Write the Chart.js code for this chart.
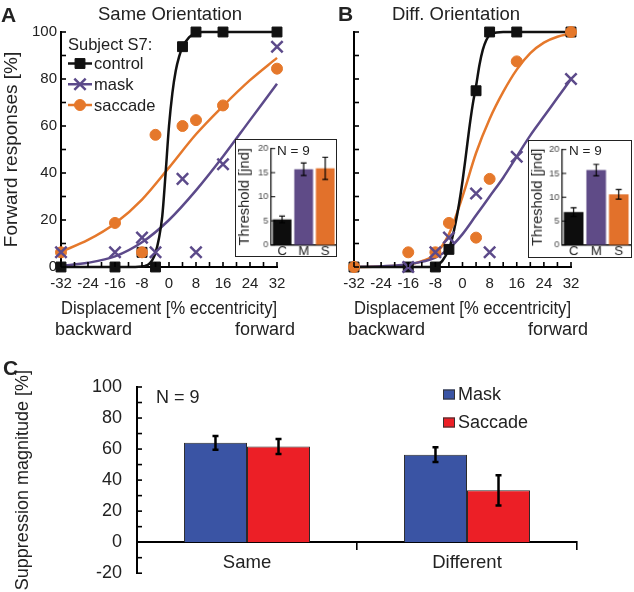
<!DOCTYPE html>
<html>
<head>
<meta charset="utf-8">
<title>Displacement suppression</title>
<script src="https://cdn.jsdelivr.net/npm/chart.js@4.4.0/dist/chart.umd.min.js"></script>
<style>
  body { margin: 0; background: #fff; }
  #fig { position: relative; width: 634px; height: 592px; overflow: hidden; font-family: "Liberation Sans", Arial, sans-serif; color: #222; }
  #fig canvas { position: absolute; }
  .inset { background: #fff; border: 1px solid #222; }
  .lbl { position: absolute; white-space: nowrap; line-height: 1; }
  .panel { font-weight: bold; font-size: 21px; }
</style>
</head>
<body>
<div id="fig">
  <canvas id="chartA" width="320" height="340" style="left:0;top:0"></canvas>
  <canvas id="chartB" width="334" height="340" style="left:300px;top:0"></canvas>
  <canvas id="insetA" class="inset" width="102" height="118" style="left:235px;top:139px"></canvas>
  <canvas id="insetB" class="inset" width="104" height="118" style="left:528px;top:140px"></canvas>
  <canvas id="chartC" width="634" height="239" style="left:0;top:360px"></canvas>

  <div class="lbl panel" style="left:1px;top:4px">A</div>
  <div class="lbl panel" style="left:338px;top:3px">B</div>
  <div class="lbl panel" style="left:3px;top:357px">C</div>
  <div class="lbl" style="left:70px;width:200px;text-align:center;top:5px;font-size:18.5px">Same Orientation</div>
  <div class="lbl" style="left:356px;width:200px;text-align:center;top:5px;font-size:18.5px">Diff. Orientation</div>
  <div class="lbl" style="left:55px;top:320px;font-size:18px">backward</div>
  <div class="lbl" style="left:195px;width:100px;text-align:right;top:320px;font-size:18px">forward</div>
  <div class="lbl" style="left:348px;top:320px;font-size:18px">backward</div>
  <div class="lbl" style="left:488px;width:100px;text-align:right;top:320px;font-size:18px">forward</div>
  <div class="lbl" style="left:277px;top:144px;font-size:13.5px">N = 9</div>
  <div class="lbl" style="left:569px;top:144px;font-size:13.5px">N = 9</div>
  <div class="lbl" style="left:156px;top:388px;font-size:18px">N = 9</div>
</div>
<script>
// displacement levels (% eccentricity), negative = backward
const displacements = [-32, -16, -8, -4, 4, 8, 16, 32];
const xTickValues = [-32, -24, -16, -8, 0, 8, 16, 24, 32];
const xMinorTicks = [-32, -28, -24, -20, -16, -12, -8, -4, 0, 4, 8, 12, 16, 20, 24, 28, 32];
const yTickValues = [0, 20, 40, 60, 80, 100];
const yMinorTicks = [0, 10, 20, 30, 40, 50, 60, 70, 80, 90, 100];

// A: same orientation, subject S7, forward responses [%]
const sameControl = [0, 0, 6.25, 0, 93.75, 100, 100, 100];
const sameMask = [6.25, 6.25, 12.5, 6.25, 37.5, 6.25, 43.75, 93.75];
const sameSaccade = [6.25, 18.75, 6.25, 56.25, 60, 62.5, 68.75, 84.4];

// B: different orientation
const diffControl = [0, 0, 0, 7.5, 75, 100, 100, 100];
const diffMask = [null, 0, 6.25, 12.5, 31.25, 6.25, 46.9, 80];
const diffSaccade = [0, 6.25, 6.25, 18.75, 12.5, 37.5, 87.5, 100];

// fitted curves
const sameControlFitX = [-32, -10, -8, -7, -6, -5, -4, -3, -2, -1, 0, 1, 2, 3, 4, 6, 8, 10, 32];
const sameControlFitY = [0, 0, 0.2, 0.5, 1.2, 2.8, 6, 12, 21.5, 40, 60, 74, 83.5, 89.5, 93.5, 97.8, 99.4, 100, 100];
const sameMaskFitX = [-32, -24, -16, -8, 0, 8, 16, 24, 32];
const sameMaskFitY = [0.5, 1.8, 4.5, 10.5, 20, 32.6, 47, 62.5, 78];
const sameSaccadeFitX = [-32, -24, -16, -8, 0, 8, 16, 24, 32];
const sameSaccadeFitY = [6.5, 11.5, 18.5, 28.7, 42.3, 56.5, 68.5, 79.5, 89];

const diffControlFitX = [-32, -10, -8, -6, -4, -3, -2, -1, 0, 1, 2, 3, 4, 5, 6, 7, 8, 10, 12, 32];
const diffControlFitY = [0, 0, 0.4, 2.5, 7.7, 12.5, 19, 27, 36.5, 47.5, 59, 69, 77, 86, 92.5, 96.5, 98.8, 99.8, 100, 100];
const diffMaskFitX = [-32, -24, -16, -8, -4, 0, 4, 8, 12, 16, 20, 24, 28, 32];
const diffMaskFitY = [0, 0.3, 1.2, 4, 7.8, 14, 22, 30, 38, 47, 56, 64, 72, 80];
const diffSaccadeFitX = [-32, -24, -16, -12, -8, -4, 0, 4, 8, 12, 16, 20, 24, 28, 32];
const diffSaccadeFitY = [0, 0.2, 1, 2.5, 5.5, 14, 30, 48.5, 63, 74.5, 84, 91, 95.5, 98, 99.3];

// insets: thresholds [jnd], N = 9
const thresholdLabels = ["C", "M", "S"];
const thresholdTicks = [0, 5, 10, 15, 20];
const sameThreshold = [5.3, 15.7, 15.9];
const sameThresholdErr = [0.7, 1.3, 2.3];
const diffThreshold = [6.9, 15.7, 10.6];
const diffThresholdErr = [0.9, 1.2, 1.0];

// C: suppression magnitude [%]
const conditions = ["Same", "Different"];
const suppTicks = [-20, 0, 20, 40, 60, 80, 100];
const suppMinorTicks = [-20, -10, 0, 10, 20, 30, 40, 50, 60, 70, 80, 90, 100];
const maskSuppression = [64, 56.4];
const maskSuppressionErr = [4.4, 4.7];
const saccadeSuppression = [61.7, 33.4];
const saccadeSuppressionErr = [4.8, 9.8];

const FONT = "'Liberation Sans', Arial, sans-serif";
const BLACK = "#111", PURPLE = "#5c4a8a", ORANGE = "#e5782b";
Chart.defaults.font.family = FONT;
Chart.defaults.color = "#222";

// tick marks pointing into the plot
const innerTicks = {
    id: "innerTicks",
    afterDraw(chart, args, o) {
        if (!o.marks) return;
        const ctx = chart.ctx, area = chart.chartArea;
        ctx.save();
        ctx.strokeStyle = "#000";
        ctx.lineWidth = o.width || 1.5;
        o.marks.forEach(m => {
            const s = chart.scales[m.axis];
            m.values.forEach(v => {
                const p = s.getPixelForValue(v);
                ctx.beginPath();
                if (s.isHorizontal()) {
                    ctx.moveTo(p, area.bottom);
                    ctx.lineTo(p, area.bottom - m.len);
                } else {
                    ctx.moveTo(area.left, p);
                    ctx.lineTo(area.left + m.len, p);
                }
                ctx.stroke();
            });
        });
        ctx.restore();
    }
};

const errorBars = {
    id: "errorBars",
    afterDatasetsDraw(chart, args, o) {
        const ctx = chart.ctx, ys = chart.scales.y;
        chart.data.datasets.forEach((ds, di) => {
            if (!ds.errors) return;
            const meta = chart.getDatasetMeta(di);
            ctx.save();
            ctx.strokeStyle = "#000";
            ctx.lineWidth = o.width;
            meta.data.forEach((bar, i) => {
                const top = ys.getPixelForValue(ds.data[i] + ds.errors[i]);
                const bot = ys.getPixelForValue(ds.data[i] - ds.errors[i]);
                ctx.beginPath();
                ctx.moveTo(bar.x, top); ctx.lineTo(bar.x, bot);
                ctx.moveTo(bar.x - o.cap, top); ctx.lineTo(bar.x + o.cap, top);
                ctx.moveTo(bar.x - o.cap, bot); ctx.lineTo(bar.x + o.cap, bot);
                ctx.stroke();
            });
            ctx.restore();
        });
    }
};

// "Subject S7:" legend with line + marker
const subjectLegend = {
    id: "subjectLegend",
    afterDraw(chart, args, o) {
        if (!o.display) return;
        const ctx = chart.ctx;
        ctx.save();
        ctx.font = o.fontSize + "px " + FONT;
        ctx.textBaseline = "middle";
        ctx.fillStyle = "#222";
        ctx.fillText(o.heading, o.x, o.headingY);
        let y = o.itemY;
        chart.data.datasets.forEach(ds => {
            if (!ds.label) return;
            ctx.strokeStyle = ds.borderColor;
            ctx.fillStyle = ds.backgroundColor;
            ctx.lineWidth = 2.5;
            ctx.beginPath();
            ctx.moveTo(o.x, y);
            ctx.lineTo(o.x + o.lineLen, y);
            ctx.stroke();
            ctx.lineWidth = ds.pointBorderWidth;
            Chart.helpers.drawPoint(ctx, {pointStyle: ds.pointStyle, radius: ds.pointRadius, borderWidth: ds.pointBorderWidth, rotation: 0}, o.x + o.lineLen / 2, y);
            ctx.fillStyle = "#222";
            ctx.fillText(ds.label, o.x + o.lineLen + 2, y + 1);
            y += o.gap;
        });
        ctx.restore();
    }
};

const boxLegend = {
    id: "boxLegend",
    afterDraw(chart, args, o) {
        const ctx = chart.ctx;
        ctx.save();
        ctx.font = o.fontSize + "px " + FONT;
        ctx.textBaseline = "middle";
        chart.data.datasets.forEach((ds, i) => {
            const y = o.y + i * o.gap;
            ctx.fillStyle = ds.backgroundColor;
            ctx.fillRect(o.x, y - o.h / 2, o.w, o.h);
            ctx.strokeStyle = "#333";
            ctx.lineWidth = 1;
            ctx.strokeRect(o.x + 0.5, y - o.h / 2 + 0.5, o.w - 1, o.h - 1);
            ctx.fillStyle = "#222";
            ctx.fillText(ds.label, o.x + o.w + 3, y + 1);
        });
        ctx.restore();
    }
};

function fitSet(xs, ys, color) {
    return {
        type: "line",
        data: xs.map((x, i) => ({x: x, y: ys[i]})),
        borderColor: color,
        borderWidth: 2.5,
        pointRadius: 0,
        cubicInterpolationMode: "monotone",
        fill: false,
        clip: false,
        order: 10
    };
}

function markSet(label, ys, color, style, r, bw, order) {
    return {
        type: "scatter",
        label: label,
        data: displacements.map((x, i) => ({x: x, y: ys[i]})).filter(p => p.y !== null),
        pointStyle: style,
        pointRadius: r,
        pointBorderWidth: bw,
        backgroundColor: color,
        borderColor: color,
        clip: false,
        order: order
    };
}

function psychChart(id, sets, withLabels, rightPad, yWidth) {
    return new Chart(document.getElementById(id), {
        type: "scatter",
        data: {datasets: sets},
        options: {
            responsive: false,
            animation: false,
            devicePixelRatio: 1,
            layout: {padding: {left: 0, top: 32, right: rightPad, bottom: 20}},
            plugins: {
                legend: {display: false},
                tooltip: {enabled: false},
                subjectLegend: {display: withLabels, heading: "Subject S7:", x: 68, headingY: 45, itemY: 63.5, gap: 20.75, lineLen: 24, fontSize: 16.5},
                innerTicks: {width: 1.6, marks: [
                    {axis: "x", values: xMinorTicks, len: 5},
                    {axis: "y", values: yMinorTicks, len: 5}
                ]}
            },
            scales: {
                x: {
                    type: "linear", min: -32, max: 32,
                    grid: {display: false, drawTicks: false},
                    border: {display: true, color: "#000", width: 2},
                    ticks: {font: {size: 15}, padding: 8, maxRotation: 0, autoSkip: false},
                    afterBuildTicks: s => { s.ticks = xTickValues.map(v => ({value: v})); },
                    title: {display: true, text: "Displacement [% eccentricity]", font: {size: 19}, padding: 0},
                    afterFit: s => { s.height = 53; }
                },
                y: {
                    min: 0, max: 100,
                    grid: {display: false, drawTicks: false},
                    border: {display: true, color: "#000", width: 2},
                    ticks: {display: withLabels, font: {size: 15}, padding: 4},
                    afterBuildTicks: s => { s.ticks = yTickValues.map(v => ({value: v})); },
                    title: {display: withLabels, text: "Forward responses [%]", font: {size: 19}, padding: 0},
                    afterFit: s => { s.width = yWidth; }
                }
            }
        },
        plugins: [innerTicks, subjectLegend]
    });
}

psychChart("chartA", [
    fitSet(sameControlFitX, sameControlFitY, BLACK),
    fitSet(sameMaskFitX, sameMaskFitY, PURPLE),
    fitSet(sameSaccadeFitX, sameSaccadeFitY, ORANGE),
    markSet("control", sameControl, BLACK, "rect", 7, 1, 3),
    markSet("mask", sameMask, PURPLE, "crossRot", 8, 2.5, 1),
    markSet("saccade", sameSaccade, ORANGE, "circle", 5.5, 1, 2)
], true, 43, 61);

psychChart("chartB", [
    fitSet(diffControlFitX, diffControlFitY, BLACK),
    fitSet(diffMaskFitX, diffMaskFitY, PURPLE),
    fitSet(diffSaccadeFitX, diffSaccadeFitY, ORANGE),
    markSet("control", diffControl, BLACK, "rect", 7, 1, 3),
    markSet("mask", diffMask, PURPLE, "crossRot", 8, 2.5, 1),
    markSet("saccade", diffSaccade, ORANGE, "circle", 5.5, 1, 2)
], false, 63, 54);

function insetChart(id, values, errs, yWidth, top, xHeight, rightPad) {
    return new Chart(document.getElementById(id), {
        type: "bar",
        data: {
            labels: thresholdLabels,
            datasets: [{
                data: values,
                errors: errs,
                backgroundColor: ["#0d0d0d", "#5f4b87", "#e2712b"],
                borderWidth: 0,
                barPercentage: 0.87,
                categoryPercentage: 1
            }]
        },
        options: {
            responsive: false,
            animation: false,
            devicePixelRatio: 1,
            layout: {padding: {left: 0, top: top, right: rightPad, bottom: 0}},
            plugins: {
                legend: {display: false},
                tooltip: {enabled: false},
                errorBars: {width: 1.2, cap: 3},
                innerTicks: {width: 1, marks: [{axis: "y", values: thresholdTicks, len: 4}]}
            },
            scales: {
                x: {
                    grid: {display: false, drawTicks: false},
                    border: {display: true, color: "#000", width: 1.5},
                    ticks: {font: {size: 13.5}, padding: -2, color: "#222"},
                    afterFit: s => { s.height = xHeight; }
                },
                y: {
                    min: 0, max: 20,
                    grid: {display: false, drawTicks: false},
                    border: {display: true, color: "#000", width: 1.2},
                    ticks: {font: {size: 9.5}, padding: 3, color: "#444"},
                    afterBuildTicks: s => { s.ticks = thresholdTicks.map(v => ({value: v})); },
                    title: {display: true, text: "Threshold [jnd]", font: {size: 15}, padding: 0},
                    afterFit: s => { s.width = yWidth; }
                }
            }
        },
        plugins: [errorBars, innerTicks]
    });
}

insetChart("insetA", sameThreshold, sameThresholdErr, 36, 5, 11.3, 0);
insetChart("insetB", diffThreshold, diffThresholdErr, 34, 5, 12.3, 1);

new Chart(document.getElementById("chartC"), {
    type: "bar",
    data: {
        labels: conditions,
        datasets: [
            {label: "Mask", data: maskSuppression, errors: maskSuppressionErr, backgroundColor: "#3a54a4", borderColor: "#2a2a2a", borderWidth: 1, barPercentage: 1, categoryPercentage: 0.573},
            {label: "Saccade", data: saccadeSuppression, errors: saccadeSuppressionErr, backgroundColor: "#ec1f26", borderColor: "#2a2a2a", borderWidth: 1, barPercentage: 1, categoryPercentage: 0.573}
        ]
    },
    options: {
        responsive: false,
        animation: false,
        devicePixelRatio: 1,
        layout: {padding: {left: 0, top: 27, right: 57, bottom: 20}},
        plugins: {
            legend: {display: false},
            tooltip: {enabled: false},
            errorBars: {width: 2.5, cap: 3},
            boxLegend: {x: 443, y: 34.5, gap: 28, w: 12, h: 10, fontSize: 18},
            innerTicks: {width: 1.6, marks: [{axis: "y", values: suppMinorTicks, len: 5}]}
        },
        scales: {
            x: {
                position: {y: 0},
                offset: true,
                grid: {display: true, drawOnChartArea: false, offset: true, tickLength: 7, color: "#000", lineWidth: 1.6},
                border: {display: true, color: "#000", width: 2},
                ticks: {font: {size: 18.5}, padding: 3}
            },
            y: {
                min: -20, max: 100,
                grid: {display: false, drawTicks: false},
                border: {display: true, color: "#000", width: 2},
                ticks: {font: {size: 18}, padding: 15},
                afterBuildTicks: s => { s.ticks = suppTicks.map(v => ({value: v})); },
                title: {display: true, text: "Suppression magnitude [%]", font: {size: 18}, padding: {top: 12, bottom: 0}},
                afterFit: s => { s.width = 137; }
            }
        }
    },
    plugins: [errorBars, innerTicks, boxLegend]
});
</script>
</body>
</html>
